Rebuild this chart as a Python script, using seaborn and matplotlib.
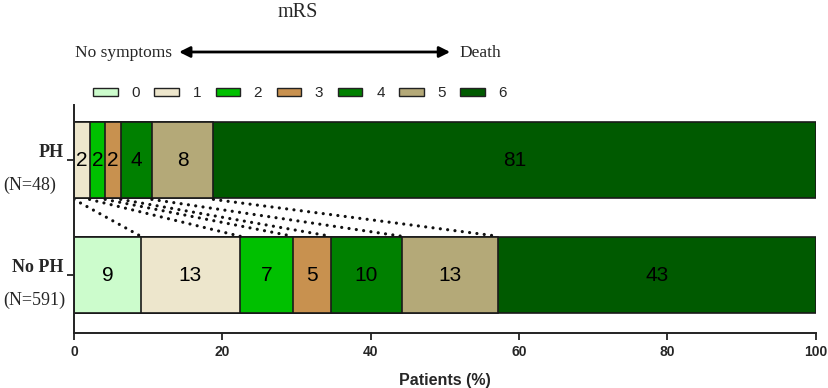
import numpy as np
import pandas as pd
import seaborn as sns
from matplotlib import pyplot as plt
from matplotlib.patches import Patch
from matplotlib import transforms

## data (percent of patients per mRS grade)
groups = ['PH', 'No PH']
group_n = ['(N=48)', '(N=591)']
mrs_grades = ['0', '1', '2', '3', '4', '5', '6']
ph_pct = [0.0, 2.1, 2.1, 2.1, 4.2, 8.3, 81.2]
noph_pct = [9.0, 13.4, 7.1, 5.1, 9.6, 13.0, 42.8]
ph_labels = ['', '2', '2', '2', '4', '8', '81']
noph_labels = ['9', '13', '7', '5', '10', '13', '43']
mrs_colors = ['#ccfccc', '#ede6cc', '#00c000', '#c8914f', '#008000', '#b4a978', '#005a00']

sns.set_style('ticks')
plt.rcParams['font.family'] = ['Liberation Sans', 'DejaVu Sans']

fig = plt.figure(figsize=(8.29, 3.88), dpi=100)
ax = fig.add_axes([0.0893, 0.1418, 0.8945, 0.5876])

cum_ph = np.cumsum(ph_pct)
cum_noph = np.cumsum(noph_pct)
df = pd.DataFrame({'group': np.repeat(groups, len(mrs_grades)),
                   'grade': mrs_grades * 2,
                   'cum': np.concatenate([cum_ph, cum_noph])})

## stacked look: draw the widest (cumulative) bars first, narrower on top
for k in range(len(mrs_grades) - 1, -1, -1):
    sub = df[df['grade'] == mrs_grades[k]]
    sns.barplot(data=sub, x='cum', y='group', order=groups, orient='h',
                color=mrs_colors[k], saturation=1, width=0.66,
                edgecolor='#1a1a1a', linewidth=1.2, ax=ax)

# segment numbers
for row, (pcts, labs) in enumerate([(ph_pct, ph_labels), (noph_pct, noph_labels)]):
    starts = np.cumsum([0] + pcts[:-1])
    for s, p, lab in zip(starts, pcts, labs):
        if lab:
            ax.text(s + p / 2, row, lab, ha='center', va='center', fontsize=15, color='black')

# dotted connectors from PH boundaries to No PH boundaries
for k in range(len(mrs_grades) - 1):
    ax.plot([cum_ph[k], cum_noph[k]], [0.34, 1 - 0.34], color='#111111',
            linestyle=(0, (0.01, 2.3)), linewidth=2.3, dash_capstyle='round')

ax.set_xlim(0, 100)
ax.set_ylim(1.5, -0.48)
ax.set_xticks([0, 20, 40, 60, 80, 100])
ax.set_xticklabels(['0', '20', '40', '60', '80', '100'],
                   fontdict={'weight': 'bold', 'size': 10})
ax.set_yticks([0, 1])
ax.set_yticklabels(['', ''])
ax.tick_params(axis='both', length=5, width=1.3, color='#222222')
ax.set_xlabel('Patients (%)', fontsize=11.5, fontweight='bold', labelpad=10)
ax.set_ylabel('')
for side in ['top', 'right']:
    ax.spines[side].set_visible(False)
for side in ['left', 'bottom']:
    ax.spines[side].set_linewidth(1.4)
    ax.spines[side].set_color('#222222')

# group labels at left
trans = transforms.blended_transform_factory(fig.transFigure, ax.transData)
for row, (g, n) in enumerate(zip(groups, group_n)):
    ax.text(0.077, row - 0.07, g, transform=trans, ha='right', va='center',
            fontsize=13, fontweight='bold', family='Liberation Serif')
    ax.text(0.004, row + 0.22, n, transform=trans, ha='left', va='center',
            fontsize=13, family='Liberation Serif')

# header: mRS scale
fig.text(0.359, 0.967, 'mRS', ha='center', va='center', fontsize=14.5, family='Liberation Serif')
fig.text(0.090, 0.863, 'No symptoms', ha='left', va='center', fontsize=12.5, family='Liberation Serif')
fig.text(0.554, 0.863, 'Death', ha='left', va='center', fontsize=12.5, family='Liberation Serif')
fig.add_artist(plt.Annotation('', xy=(0.216, 0.866), xytext=(0.543, 0.866),
                              xycoords='figure fraction', textcoords='figure fraction',
                              arrowprops=dict(arrowstyle='<|-|>', color='black', lw=2,
                                              mutation_scale=16, shrinkA=0, shrinkB=0)))

# legend
handles = [Patch(facecolor=c, edgecolor='#222222', linewidth=1) for c in mrs_colors]
fig.legend(handles, mrs_grades, loc='center', bbox_to_anchor=(0.362, 0.76), ncol=7,
           frameon=False, fontsize=11, handlelength=1.6, handleheight=0.4,
           handletextpad=0.9, columnspacing=0.95)

fig.savefig('out.png', dpi=100)
